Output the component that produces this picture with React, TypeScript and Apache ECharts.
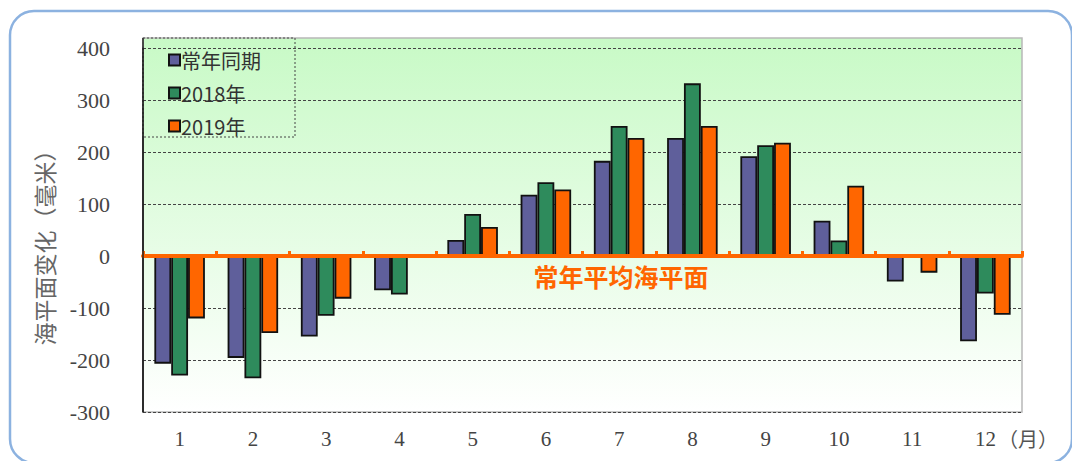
import React, { useEffect, useRef } from "react";
import * as echarts from "echarts";

// Monthly sea-level anomaly (mm) relative to the long-term mean sea level
const months = ["1", "2", "3", "4", "5", "6", "7", "8", "9", "10", "11", "12"];
const seriesNames = ["常年同期", "2018年", "2019年"];
const normalValues = [-207, -196, -155, -66, 31, 118, 183, 227, 192, 68, -49, -164];
const values2018 = [-230, -235, -115, -74, 81, 142, 250, 332, 213, 30, -2, -72];
const values2019 = [-120, -148, -82, 3, 56, 128, 227, 250, 218, 135, -32, -113];
const yTicks = { min: -300, max: 400, interval: 100 };

const COLORS = ["#5f5f9b", "#2e8b5c", "#ff6600"];
const ORANGE = "#ff6600";
const NUM_FONT = "'Liberation Serif', 'DejaVu Serif', serif";
const CJK_FONT = "'Noto Sans CJK SC', sans-serif";

const GRID = { left: 143, right: 50, top: 48, bottom: 49 };
const W = 1072;
const H = 461;
const PLOT_TOP = 38;

export default function App() {
  const ref = useRef<HTMLDivElement>(null);

  useEffect(() => {
    if (!ref.current) return;
    const chart = echarts.init(ref.current, undefined, { renderer: "svg" });
    const plotRight = W - GRID.right;
    const plotBottom = H - GRID.bottom;

    const barSeries = [normalValues, values2018, values2019].map((data, i) => ({
      name: seriesNames[i],
      type: "bar",
      xAxisIndex: 0,
      yAxisIndex: 0,
      data,
      barGap: "0%",
      barCategoryGap: "31%",
      itemStyle: { color: COLORS[i], borderColor: "#111", borderWidth: 1.8 },
      z: 3,
    }));

    chart.setOption({
      animation: false,
      backgroundColor: "#ffffff",
      grid: { ...GRID, show: false },
      legend: {
        data: seriesNames,
        orient: "vertical",
        left: 163,
        top: 44,
        itemWidth: 11,
        itemHeight: 11,
        itemGap: 11,
        icon: "rect",
        textStyle: { fontFamily: CJK_FONT, fontSize: 20, lineHeight: 22, color: "#333", padding: [0, 0, 0, -4] },
        selectedMode: false,
      },
      xAxis: [
        {
          type: "category",
          data: months,
          position: "bottom",
          axisLine: { show: false, onZero: false },
          axisTick: { show: false },
          axisLabel: {
            fontFamily: NUM_FONT,
            fontSize: 21,
            color: "#444",
            margin: 16,
          },
        },
        {
          type: "category",
          data: months,
          position: "bottom",
          axisLine: {
            show: true,
            onZero: true,
            lineStyle: { color: ORANGE, width: 4, cap: "round" },
          },
          axisTick: {
            show: true,
            inside: true,
            length: 5,
            lineStyle: { color: ORANGE, width: 3 },
          },
          axisLabel: { show: false },
          z: 5,
        },
      ],
      yAxis: {
        type: "value",
        min: yTicks.min,
        max: yTicks.max,
        interval: yTicks.interval,
        axisLine: { show: true, lineStyle: { color: "#222", width: 1.5 } },
        axisTick: { show: false },
        axisLabel: {
          fontFamily: NUM_FONT,
          fontSize: 22,
          color: "#444",
          margin: 33,
        },
        splitLine: {
          show: true,
          lineStyle: { color: "#444", type: [3, 2], width: 1.2 },
        },
      },
      graphic: {
        elements: [
          // plot background, extending slightly above the 400 line
          {
            type: "rect",
            z: -10,
            shape: { x: GRID.left, y: PLOT_TOP, width: plotRight - GRID.left, height: plotBottom - PLOT_TOP },
            style: {
              fill: new echarts.graphic.LinearGradient(0, 0, 0, 1, [
                { offset: 0, color: "#c8fac6" },
                { offset: 1, color: "#ffffff" },
              ]),
              stroke: "#b8b8b8",
              lineWidth: 1.5,
            },
          },
          {
            type: "line",
            z: 10,
            shape: { x1: GRID.left, y1: PLOT_TOP, x2: GRID.left, y2: plotBottom },
            style: { stroke: "#222", lineWidth: 1.5 },
          },
          // legend frame
          {
            type: "rect",
            z: 10,
            shape: { x: GRID.left, y: PLOT_TOP, width: 152, height: 99 },
            style: { fill: "none", stroke: "#444", lineWidth: 1, lineDash: [2, 2] },
          },
          // rounded outer frame
          {
            type: "rect",
            z: 20,
            shape: { x: 10, y: 11, width: 1062, height: 452, r: 24 },
            style: { fill: "none", stroke: "#8cb2e0", lineWidth: 2.5 },
          },
          // y-axis title
          {
            type: "text",
            z: 10,
            x: 44,
            y: 242,
            rotation: Math.PI / 2,
            style: {
              text: "海平面变化（毫米）",
              fontFamily: CJK_FONT,
              fontSize: 23,
              fill: "#666",
              align: "center",
              verticalAlign: "middle",
            },
          },
          // unit after the last month label
          {
            type: "text",
            z: 10,
            x: 998,
            y: 438,
            style: {
              text: "（月）",
              fontFamily: CJK_FONT,
              fontSize: 20,
              fill: "#555",
              align: "left",
              verticalAlign: "middle",
            },
          },
          // zero-line caption
          {
            type: "text",
            z: 10,
            x: 621,
            y: 276,
            style: {
              text: "常年平均海平面",
              fontFamily: CJK_FONT,
              fontSize: 25,
              fontWeight: "bold",
              fill: ORANGE,
              align: "center",
              verticalAlign: "middle",
            },
          },
        ],
      },
      series: barSeries,
    });

    return () => chart.dispose();
  }, []);

  return (
    <div
      ref={ref}
      style={{ position: "absolute", left: 0, top: 0, width: W, height: H }}
    />
  );
}
